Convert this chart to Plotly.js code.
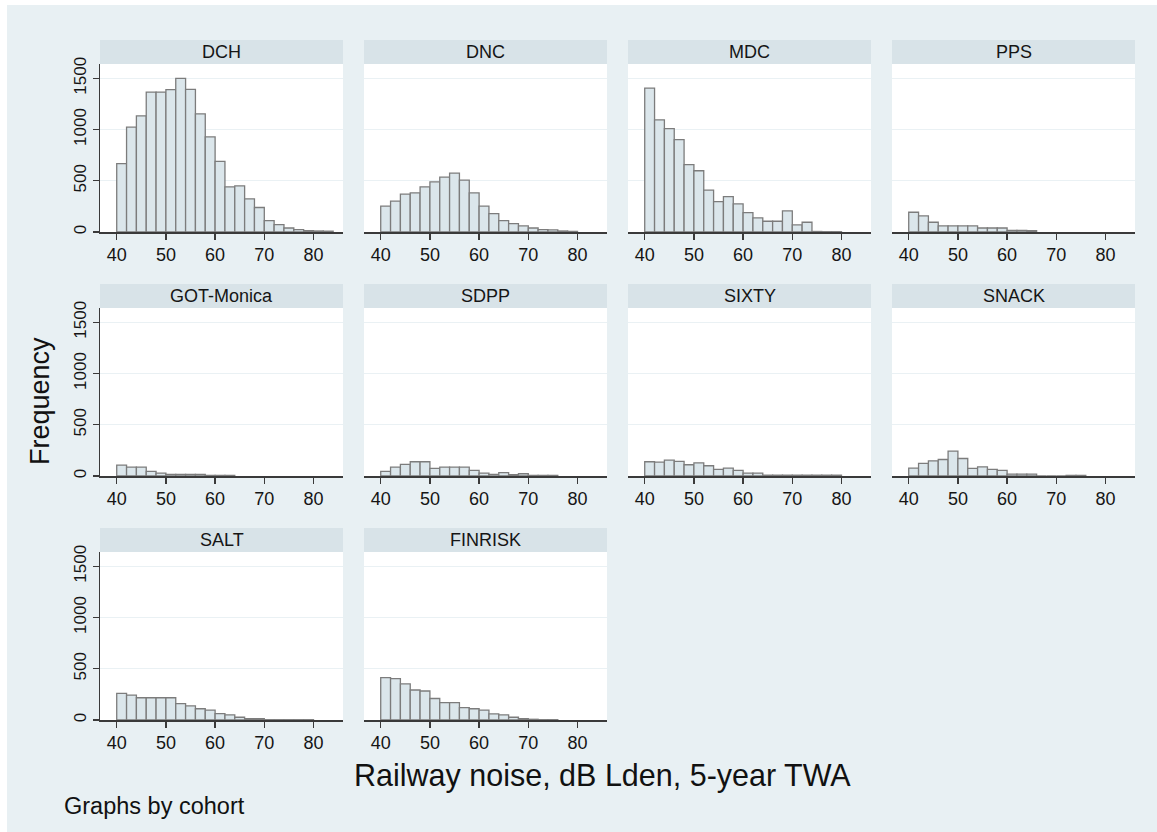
<!DOCTYPE html>
<html>
<head>
<meta charset="utf-8">
<script src="https://cdn.plot.ly/plotly-3.0.1.min.js"></script>
<style>
  html, body { margin: 0; padding: 0; background: #ffffff; width: 1157px; height: 832px; overflow: hidden; }
  #chart { position: absolute; left: 7px; top: 5px; width: 1150px; height: 827px; }
</style>
</head>
<body>
<div id="chart"></div>
<script>
// Lower edge of each 2 dB bin
const binStart = [40, 42, 44, 46, 48, 50, 52, 54, 56, 58, 60, 62, 64, 66, 68, 70, 72, 74, 76, 78, 80, 82];

// Cohort names, in panel order
const cohorts = ["DCH", "DNC", "MDC", "PPS", "GOT-Monica", "SDPP", "SIXTY", "SNACK", "SALT", "FINRISK"];

// Frequency per bin for each cohort
const dch     = [667, 1023, 1134, 1366, 1366, 1389, 1500, 1392, 1154, 928, 690, 441, 451, 324, 239, 111, 72, 39, 23, 13, 10, 8];
const dnc     = [252, 301, 369, 382, 441, 490, 536, 575, 507, 382, 252, 180, 111, 82, 59, 39, 23, 20, 10, 6];
const mdc     = [1405, 1095, 1010, 902, 657, 598, 408, 297, 346, 275, 190, 137, 105, 105, 206, 69, 95, 5, 3, 3];
const pps     = [193, 157, 95, 59, 59, 59, 59, 39, 39, 39, 16, 16, 13];
const gotMonica = [106, 87, 87, 45, 29, 16, 16, 16, 16, 6, 6, 6];
const sdpp    = [45, 87, 113, 139, 139, 74, 87, 87, 87, 55, 29, 16, 32, 13, 22, 6, 6, 6];
const sixty   = [139, 135, 155, 142, 110, 129, 100, 65, 77, 55, 29, 29, 8, 8, 8, 8, 8, 8, 8, 8];
const snack   = [77, 123, 148, 161, 242, 171, 74, 90, 65, 55, 19, 19, 19, 0, 0, 0, 6, 6];
const salt    = [260, 243, 217, 217, 217, 217, 160, 137, 110, 97, 63, 50, 27, 13, 13, 3, 3, 3, 3, 3];
const finrisk = [413, 403, 353, 293, 283, 210, 170, 170, 120, 110, 97, 60, 50, 27, 13, 7, 3, 3];

const counts = [dch, dnc, mdc, pps, gotMonica, sdpp, sixty, snack, salt, finrisk];

const xTicks = [40, 50, 60, 70, 80];
const yTicks = [0, 500, 1000, 1500];

// Figure geometry (pixels inside the chart div)
const W = 1150, H = 827;
const colLeft = [93, 357, 621, 885];
const panelW = 243;
const rowTop = [59, 303, 547];
const panelH = 168;
const headerH = 24;

const FONT = "Liberation Sans, Arial, sans-serif";
const BG = "#e8f0f3";
const HEADER = "#d8e3e8";
const BAR_FILL = "#dbe6eb";
const BAR_LINE = "#7c7c7c";
const AXIS = "#3a3a3a";

const px = v => v / W;
const py = v => (H - v) / H;

const data = [];
const layout = {
  width: W, height: H,
  margin: {l: 0, r: 0, t: 0, b: 0},
  paper_bgcolor: BG,
  plot_bgcolor: "#ffffff",
  showlegend: false,
  shapes: [],
  annotations: [],
  font: {family: FONT, color: "#1a1a1a"}
};

cohorts.forEach((name, i) => {
  const row = Math.floor(i / 4), col = i % 4;
  const n = i + 1;
  const xa = "xaxis" + (n === 1 ? "" : n);
  const ya = "yaxis" + (n === 1 ? "" : n);
  const xr = "x" + (n === 1 ? "" : n);
  const yr = "y" + (n === 1 ? "" : n);

  const x0 = colLeft[col], x1 = colLeft[col] + panelW;
  const yTop = rowTop[row], yBot = rowTop[row] + panelH;

  data.push({
    type: "bar",
    x: binStart.slice(0, counts[i].length),
    y: counts[i],
    width: 2,
    offset: 0,
    xaxis: xr, yaxis: yr,
    marker: {color: BAR_FILL, line: {color: BAR_LINE, width: 1.3}},
    hoverinfo: "x+y"
  });

  layout[xa] = {
    domain: [px(x0), px(x1)],
    anchor: yr,
    range: [36.6, 86],
    tickvals: xTicks,
    ticks: "outside", ticklen: 6, tickwidth: 1.3, tickcolor: AXIS,
    showline: true, linecolor: AXIS, linewidth: 1.5,
    showgrid: false, zeroline: false,
    tickfont: {family: FONT, size: 18, color: "#151515"},
    fixedrange: true
  };

  const first = col === 0;
  layout[ya] = {
    domain: [py(yBot), py(yTop)],
    anchor: xr,
    range: [0, 1640],
    tickvals: yTicks,
    showgrid: true, gridcolor: "#eaf1f4", gridwidth: 1.3,
    zeroline: false,
    showline: first, linecolor: AXIS, linewidth: 1.5,
    ticks: first ? "outside" : "", ticklen: 6, tickwidth: 1.3, tickcolor: AXIS,
    showticklabels: first,
    tickangle: -90,
    tickfont: {family: FONT, size: 17, color: "#151515"},
    fixedrange: true
  };

  // Panel header strip with the cohort name
  layout.shapes.push({
    type: "rect", xref: "paper", yref: "paper",
    x0: px(x0), x1: px(x1), y0: py(yTop), y1: py(yTop - headerH),
    fillcolor: HEADER, line: {width: 0}, layer: "below"
  });
  layout.annotations.push({
    xref: "paper", yref: "paper",
    x: px((x0 + x1) / 2), y: py(yTop - headerH / 2),
    xanchor: "center", yanchor: "middle",
    text: name, showarrow: false,
    font: {family: FONT, size: 18, color: "#151515"}
  });
});

// Shared axis titles and the by-group note
layout.annotations.push({
  xref: "paper", yref: "paper",
  x: px(33), y: py(396), xanchor: "center", yanchor: "middle",
  text: "Frequency", textangle: -90, showarrow: false,
  font: {family: FONT, size: 27, color: "#111"}
});
layout.annotations.push({
  xref: "paper", yref: "paper",
  x: px(595), y: py(770), xanchor: "center", yanchor: "middle",
  text: "Railway noise, dB Lden, 5-year TWA", showarrow: false,
  font: {family: FONT, size: 30.5, color: "#111"}
});
layout.annotations.push({
  xref: "paper", yref: "paper",
  x: px(55), y: py(801), xanchor: "left", yanchor: "middle",
  text: "Graphs by cohort", showarrow: false,
  font: {family: FONT, size: 23.5, color: "#111"}
});

Plotly.newPlot("chart", data, layout, {displayModeBar: false, staticPlot: true});
</script>
</body>
</html>
